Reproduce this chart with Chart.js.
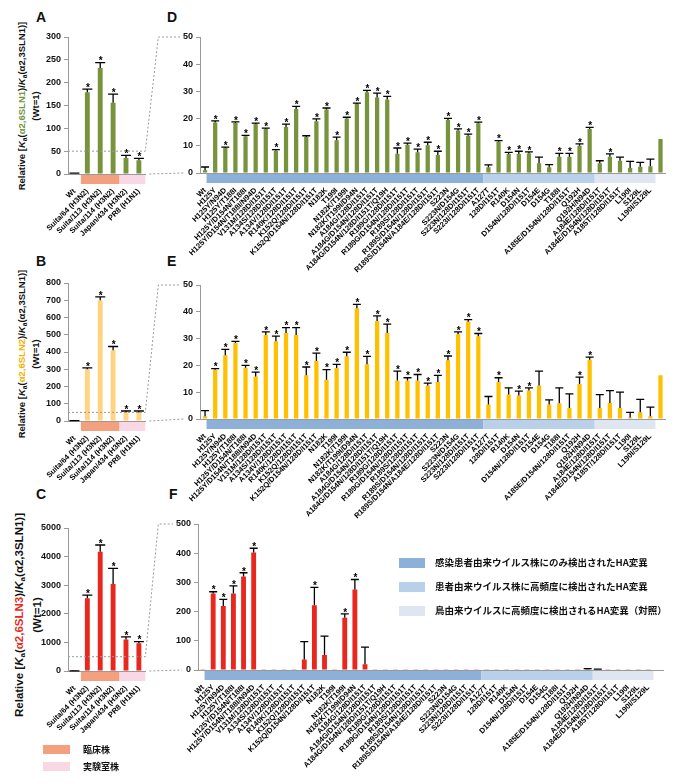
<!DOCTYPE html>
<html lang="ja">
<head>
<meta charset="UTF-8">
<title>HA mutants binding</title>
<script src="https://cdn.jsdelivr.net/npm/chart.js@4.4.0/dist/chart.umd.min.js"></script>
<style>
  body { margin: 0; background: #fff; }
  #page { position: relative; width: 680px; height: 784px; overflow: hidden;
          font-family: Arial, "Liberation Sans", sans-serif; color: #111; }
  canvas { position: absolute; }
  .letter { position: absolute; font-weight: bold; font-size: 14px; line-height: 14px; }
  .ytitle { position: absolute; font-weight: bold; white-space: nowrap; text-align: center;
            transform: translate(-50%, -50%) rotate(-90deg); }
  .ytitle sub { font-size: 70%; vertical-align: -2px; }
  .sw { position: absolute; }
  .lg { position: absolute; font-family: "Noto Sans CJK JP", sans-serif; font-weight: bold;
        white-space: nowrap; line-height: 1; }
</style>
</head>
<body>
<div id="page">
  <div class="letter" style="left:36px;top:10px">A</div>
  <div class="letter" style="left:167px;top:10px">D</div>
  <div class="letter" style="left:36px;top:254px">B</div>
  <div class="letter" style="left:167px;top:254px">E</div>
  <div class="letter" style="left:36px;top:487px">C</div>
  <div class="letter" style="left:169px;top:487px">F</div>

  <div class="ytitle" style="left:28px;top:106px;font-size:9.5px;line-height:11px">
    Relative [<i>K</i><sub>a</sub>(<span style="color:#77933C">α2,6SLN1</span>)/<i>K</i><sub>a</sub>(α2,3SLN1)]<br>(Wt=1)</div>
  <div class="ytitle" style="left:28px;top:354px;font-size:9.5px;line-height:11px">
    Relative [<i>K</i><sub>a</sub>(<span style="color:#F5B000">α2,6SLN2</span>)/<i>K</i><sub>a</sub>(α2,3SLN1)]<br>(Wt=1)</div>
  <div class="ytitle" style="left:28px;top:615px;font-size:11.5px;line-height:14px">
    Relative [<i>K</i><sub>a</sub>(<span style="color:#E8281E">α2,6SLN3</span>)/<i>K</i><sub>a</sub>(α2,3SLN1)]<br>(Wt=1)</div>

  <canvas id="chartA" width="129" height="260" style="left:30px;top:25px"></canvas>
  <canvas id="chartD" width="515" height="260" style="left:165px;top:25px"></canvas>
  <canvas id="chartB" width="129" height="260" style="left:30px;top:270px"></canvas>
  <canvas id="chartE" width="515" height="260" style="left:165px;top:270px"></canvas>
  <canvas id="chartC" width="129" height="260" style="left:30px;top:515px"></canvas>
  <canvas id="chartF" width="515" height="260" style="left:163px;top:515px"></canvas>
  <canvas id="overlay" width="680" height="784" style="left:0;top:0;pointer-events:none"></canvas>

  <div class="sw" style="left:399px;top:558px;width:26px;height:10px;background:#8DB0D9"></div>
  <div class="lg" style="left:435px;top:558px;font-size:9.5px">感染患者由来ウイルス株にのみ検出されたHA変異</div>
  <div class="sw" style="left:399px;top:582px;width:26px;height:10px;background:#B9D0EA"></div>
  <div class="lg" style="left:435px;top:582px;font-size:9.5px">患者由来ウイルス株に高頻度に検出されたHA変異</div>
  <div class="sw" style="left:399px;top:606px;width:26px;height:10px;background:#DDE6F1"></div>
  <div class="lg" style="left:435px;top:606px;font-size:9.5px">鳥由来ウイルスに高頻度に検出されるHA変異（対照）</div>

  <div class="sw" style="left:43px;top:745px;width:27px;height:9px;background:#F2A07D"></div>
  <div class="lg" style="left:83px;top:745px;font-size:9px">臨床株</div>
  <div class="sw" style="left:43px;top:762px;width:27px;height:9px;background:#FAD7E4"></div>
  <div class="lg" style="left:83px;top:762px;font-size:9px">実験室株</div>
</div>

<script>
// ---- data ----
const strainLabels = ['Wt', 'Suita/64 (H3N2)', 'Suita/113 (H3N2)', 'Suita/114 (H3N2)', 'Japan/434 (H3N2)', 'PR8 (H1N1)'];
const strainGroups = ['', 'clinical', 'clinical', 'clinical', 'lab', 'lab'];

const sln1Strain = [1, 179, 232, 156, 35, 30];
const sln1StrainErr = [1, 7, 12, 19, 6, 4];
const sln1StrainStar = [0, 1, 1, 1, 1, 1];

const sln2Strain = [1, 300, 700, 410, 50, 50];
const sln2StrainErr = [1, 8, 20, 22, 8, 8];
const sln2StrainStar = [0, 1, 1, 1, 1, 1];

const sln3Strain = [1, 2540, 4170, 3040, 1100, 970];
const sln3StrainErr = [1, 115, 235, 550, 90, 55];
const sln3StrainStar = [0, 1, 1, 1, 1, 1];

const mutantLabels = ['Wt', 'H125Y', 'H125Y/N94D', 'H125Y/T188I', 'H125Y/D154N/T188I', 'H125Y/D154N/T188I/N94D',
  'V131M/128D/I151T', 'A134S/128D/I151T', 'A134V/128D/I151T', 'R140K/128D/I151T', 'K152Q/128D/I151T',
  'K152Q/D154N/128D/I151T', 'N182K', 'T199I', 'N182K/T199I', 'N182K/T199I/D94N', 'A184G/128D/I151T',
  'A184G/D154N/128D/I151T', 'A184G/D154N/128D/I151T/Q19H', 'R189G/128D/I151T', 'R189G/D154N/128D/I151T',
  'R189S/128D/I151T', 'R189S/D154N/128D/I151T', 'R189S/D154N/A184E/128D/I151T', 'S223N', 'S223N/D154G',
  'S223N/128D/I151T', 'S223I/128D/I151T', 'A127T', '128D/I151T', 'R140K', 'D154N', 'D154N/128D/I151T',
  'D154E', 'D154G', 'T188I', 'A185E/D154N/128D/I151T', 'Q192H', 'Q192H/N94D', 'A184E/128D/I151T',
  'A184E/D154N/128D/I151T', 'A185T/128D/I151T', 'L190I', 'S129L', 'L190I/S129L', ''];
// P = patient-only, F = frequent in patients, A = avian control
const mutantGroups = 'PPPPPPPPPPPPPPPPPPPPPPPPPPPPFFFFFFFFFFFAAAAAA-'.split('');

const sln1Mutant = [1.0, 18.6, 9.2, 18.4, 13.5, 18.0, 16.2, 8.2, 16.9, 23.5, 13.2, 19.0, 23.3, 12.0, 20.0, 25.4,
  29.7, 27.8, 27.0, 7.1, 10.4, 7.6, 10.2, 6.6, 19.5, 15.6, 13.7, 18.3, 2.1, 11.5, 7.0, 7.0, 7.2, 3.6, 2.1, 6.0,
  6.0, 10.0, 16.2, 3.6, 6.0, 4.5, 1.8, 2.3, 2.5, 12.5];
const sln1MutantErr = [1.2, 0.6, 0.3, 0.4, 0.3, 0.3, 0.3, 0.4, 1.1, 1.0, 0.5, 0.9, 0.6, 1.2, 0.5, 0.3, 0.7, 1.6,
  1.2, 2.1, 0.6, 1.2, 1.1, 1.4, 0.6, 0.6, 0.6, 0.4, 0.9, 0.4, 0.6, 1.0, 0.6, 2.2, 1.0, 1.2, 1.2, 0.7, 0.6, 0.9,
  1.0, 1.3, 2.5, 1.6, 2.6, 0];
const sln1MutantStar = [0, 1, 1, 1, 1, 1, 1, 1, 1, 1, 0, 1, 1, 1, 1, 1, 1, 1, 1, 1, 1, 1, 1, 1, 1, 1, 1, 1, 0, 1,
  1, 1, 1, 0, 0, 1, 1, 1, 1, 0, 1, 0, 0, 0, 0, 0];

const sln2Mutant = [1.0, 18.4, 23.8, 28.4, 19.1, 15.9, 31.3, 29.0, 32.1, 31.3, 16.3, 21.6, 14.6, 19.0, 23.4, 41.3,
  20.4, 36.6, 32.1, 14.4, 14.4, 14.4, 12.5, 13.8, 21.9, 31.6, 36.3, 30.9, 5.4, 13.8, 9.1, 8.8, 10.6, 12.5, 5.4,
  5.9, 4.1, 13.1, 22.1, 4.1, 6.0, 4.1, 0.6, 2.5, 1.0, 16.3];
const sln2MutantErr = [2.1, 0.4, 2.2, 0.6, 0.9, 1.6, 1.2, 1.9, 2.0, 2.8, 3.1, 3.0, 3.8, 1.4, 1.5, 1.5, 3.0, 1.9,
  3.3, 3.5, 1.0, 2.2, 0.9, 2.5, 1.6, 0.9, 0.8, 1.0, 3.0, 1.6, 2.5, 1.6, 1.0, 5.4, 1.7, 5.7, 5.3, 2.5, 1.0, 5.0,
  4.6, 5.9, 1.9, 4.8, 3.4, 0];
const sln2MutantStar = [0, 1, 1, 1, 1, 1, 1, 1, 1, 1, 1, 1, 1, 1, 1, 1, 1, 1, 1, 1, 1, 1, 1, 1, 1, 1, 1, 1, 0, 1,
  0, 1, 1, 0, 0, 0, 0, 1, 1, 0, 0, 0, 0, 0, 0, 0];

const sln3Mutant = [1, 262, 219, 262, 320, 402, 1, 1, 1, 1, 36, 222, 51, 1, 179, 276, 20, 1, 1, 1, 1, 1, 1, 1,
  1, 1, 1, 1, 1, 1, 1, 1, 1, 1, 1, 1, 1, 1, 3, 2, 1, 1, 1, 1, 1, 0];
const sln3MutantErr = [0, 6, 23, 26, 13, 15, 0, 0, 0, 0, 61, 61, 65, 0, 13, 34, 58, 0, 0, 0, 0, 0, 0, 0,
  0, 0, 0, 0, 0, 0, 0, 0, 0, 0, 0, 0, 0, 0, 2, 1, 0, 0, 0, 0, 0, 0];
const sln3MutantStar = [0, 1, 1, 1, 1, 1, 0, 0, 0, 0, 0, 1, 0, 0, 1, 1, 0, 0, 0, 0, 0, 0, 0, 0,
  0, 0, 0, 0, 0, 0, 0, 0, 0, 0, 0, 0, 0, 0, 0, 0, 0, 0, 0, 0, 0, 0];

// ---- styles ----
const GREEN = '#77933C', PALE_GOLD = '#FFD37F', GOLD = '#FFC000', RED = '#E8281E';
const stripColors = { clinical: '#F2A07D', lab: '#FAD7E4', P: '#8DB0D9', F: '#B9D0EA', A: '#DDE6F1' };

Chart.defaults.font.family = 'Arial, "Liberation Sans", sans-serif';

const errorBarPlugin = {
  id: 'errorBars',
  afterDatasetsDraw(chart, args, opts) {
    const { ctx } = chart;
    const x = chart.scales.x, y = chart.scales.y;
    const values = chart.data.datasets[0].data;
    ctx.save();
    ctx.strokeStyle = '#000';
    ctx.fillStyle = '#000';
    ctx.lineWidth = 1.3;
    ctx.font = 'bold 10px Arial, "Liberation Sans", sans-serif';
    ctx.textAlign = 'center';
    ctx.textBaseline = 'bottom';
    values.forEach((v, i) => {
      const e = opts.errors[i];
      const cx = x.getPixelForValue(i);
      const top = y.getPixelForValue(v);
      const capY = y.getPixelForValue(v + e);
      const half = opts.capHalf;
      if (e > 0) {
        ctx.beginPath();
        ctx.moveTo(cx, top);
        ctx.lineTo(cx, capY);
        ctx.moveTo(cx - half, capY);
        ctx.lineTo(cx + half, capY);
        ctx.stroke();
      }
      // asterisk sits high in its em box, so a 'bottom' baseline a little below the cap keeps it just above
      if (opts.stars[i]) ctx.fillText('*', cx + 0.5, capY + 4);
    });
    ctx.restore();
  }
};

const stripPlugin = {
  id: 'groupStrip',
  afterDraw(chart, args, opts) {
    const { ctx, chartArea } = chart;
    const x = chart.scales.x;
    const groups = opts.groups;
    const half = (x.getPixelForValue(1) - x.getPixelForValue(0)) / 2;
    ctx.save();
    let i = 0;
    while (i < groups.length) {
      let j = i;
      while (j + 1 < groups.length && groups[j + 1] === groups[i]) j++;
      const color = stripColors[groups[i]];
      if (color) {
        const x0 = i === 0 ? x.getPixelForValue(0) + 1.5 : x.getPixelForValue(i) - half;
        const x1 = x.getPixelForValue(j) + half;
        ctx.fillStyle = color;
        ctx.fillRect(x0, chartArea.bottom + 1, x1 - x0, opts.height);
      }
      i = j + 1;
    }
    ctx.restore();
  }
};

function makeBarChart(id, cfg) {
  return new Chart(document.getElementById(id), {
    type: 'bar',
    data: {
      labels: cfg.labels,
      datasets: [{ data: cfg.values, backgroundColor: cfg.color, barPercentage: cfg.barPct, categoryPercentage: 1 }]
    },
    options: {
      responsive: false,
      animation: false,
      events: [],
      layout: { padding: { top: cfg.padTop, right: cfg.padRight, left: 0, bottom: 0 } },
      plugins: {
        legend: { display: false },
        tooltip: { enabled: false },
        errorBars: { errors: cfg.errors, stars: cfg.stars, capHalf: cfg.capHalf },
        groupStrip: { groups: cfg.groups, height: cfg.stripH }
      },
      scales: {
        x: {
          grid: { display: false, drawTicks: false },
          border: { color: '#9a9a9a', dash: cfg.baseDash || [] },
          ticks: { autoSkip: false, minRotation: 45, maxRotation: 45, padding: 13, color: '#000',
                   font: { size: 7.6, weight: 'bold' } },
          afterFit: s => { s.height = cfg.xHeight; }
        },
        y: {
          min: 0, max: cfg.max,
          ticks: { stepSize: cfg.step, padding: 3, color: '#111', font: { size: 9, weight: 'bold' },
                   callback: v => String(v) },
          grid: { drawOnChartArea: false, tickLength: 4, color: '#9a9a9a' },
          border: { color: '#9a9a9a' },
          afterFit: s => { s.width = cfg.yWidth; }
        }
      }
    },
    plugins: [errorBarPlugin, stripPlugin]
  });
}

const small = { labels: strainLabels, groups: strainGroups, barPct: 0.38, capHalf: 5, yWidth: 38, padRight: 8, stripH: 9 };
const wide = { labels: mutantLabels, groups: mutantGroups, barPct: 0.42, capHalf: 4, yWidth: 35, padRight: 5, stripH: 9 };

const chartA = makeBarChart('chartA', Object.assign({}, small, {
  values: sln1Strain, errors: sln1StrainErr, stars: sln1StrainStar, color: GREEN,
  max: 300, step: 50, padTop: 12, xHeight: 111 }));
const chartD = makeBarChart('chartD', Object.assign({}, wide, {
  values: sln1Mutant, errors: sln1MutantErr, stars: sln1MutantStar, color: GREEN,
  max: 50, step: 10, padTop: 12, xHeight: 112 }));
const chartB = makeBarChart('chartB', Object.assign({}, small, {
  values: sln2Strain, errors: sln2StrainErr, stars: sln2StrainStar, color: PALE_GOLD,
  max: 800, step: 100, padTop: 13, xHeight: 109 }));
const chartE = makeBarChart('chartE', Object.assign({}, wide, {
  values: sln2Mutant, errors: sln2MutantErr, stars: sln2MutantStar, color: GOLD,
  max: 50, step: 10, padTop: 15, xHeight: 111, baseDash: [2, 2] }));
const chartC = makeBarChart('chartC', Object.assign({}, small, {
  values: sln3Strain, errors: sln3StrainErr, stars: sln3StrainStar, color: RED,
  max: 5000, step: 1000, padTop: 13, xHeight: 104 }));
const chartF = makeBarChart('chartF', Object.assign({}, wide, {
  values: sln3Mutant, errors: sln3MutantErr, stars: sln3MutantStar, color: RED, barPct: 0.48,
  max: 500, step: 100, padTop: 9, xHeight: 105 }));

// dashed zoom connectors between overview and detail panels
function drawConnector(ctx, src, dst, cut) {
  const sl = src.canvas.offsetLeft, st = src.canvas.offsetTop;
  const dl = dst.canvas.offsetLeft, dt = dst.canvas.offsetTop;
  const sy = st + src.scales.y.getPixelForValue(cut);
  const s0 = st + src.scales.y.getPixelForValue(0);
  const sx0 = sl + src.chartArea.left, sx1 = sl + src.chartArea.right;
  const dTop = dt + dst.scales.y.getPixelForValue(dst.scales.y.max);
  const dBot = dt + dst.scales.y.getPixelForValue(0);
  ctx.font = 'bold 9px Arial, "Liberation Sans", sans-serif';
  const labW = ctx.measureText(String(dst.scales.y.max)).width;
  const dEnd = dl + dst.chartArea.left - 4 - 3 - labW - 3;
  ctx.beginPath();
  ctx.moveTo(sx0, sy);
  ctx.lineTo(sx1, sy);
  ctx.lineTo(sx1 + 13, dTop);
  ctx.lineTo(dEnd, dTop);
  ctx.moveTo(sx1 + 4, s0);
  ctx.lineTo(dl + dst.chartArea.left - 16, dBot);
  ctx.stroke();
}
const octx = document.getElementById('overlay').getContext('2d');
octx.strokeStyle = '#9a9a9a';
octx.lineWidth = 1;
octx.setLineDash([2, 2]);
drawConnector(octx, chartA, chartD, 50);
drawConnector(octx, chartB, chartE, 50);
drawConnector(octx, chartC, chartF, 500);
</script>
</body>
</html>
